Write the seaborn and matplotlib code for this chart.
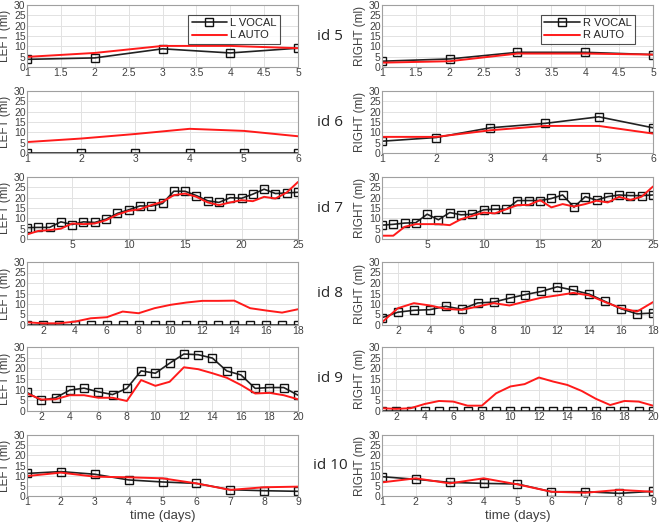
import seaborn as sns
import numpy as np
import matplotlib.pyplot as plt
import pandas as pd

# subject ids, one row of panels each
ids = [5, 6, 7, 8, 9, 10]

# id 5
l_vocal_5 = [3.7, 4.4, 8.8, 6.8, 9.1]
l_auto_5 = [4.9, 6.8, 10.2, 10.2, 9.1]
r_vocal_5 = [2.8, 3.9, 7.1, 7.1, 6.0]
r_auto_5 = [2.1, 2.8, 6.5, 6.5, 6.0]

# id 6
l_vocal_6 = [0, 0, 0, 0, 0, 0]
l_auto_6 = [5.3, 7.0, 9.2, 11.7, 10.7, 8.1]
r_vocal_6 = [5.7, 7.5, 12.2, 14.3, 17.5, 12.2]
r_auto_6 = [7.8, 7.8, 11.0, 13.1, 13.1, 9.4]

# id 7
l_vocal_7 = [5.5, 5.6, 5.6, 8.3, 7.0, 8.3, 8.0, 9.6, 12.4, 14.1, 16.0, 15.9, 17.2,
             23.1, 23.1, 21.0, 18.5, 17.7, 20.0, 19.7, 21.7, 24.1, 22.0, 22.3, 22.6]
l_auto_7 = [2.2, 3.9, 4.3, 5.0, 7.5, 7.2, 7.5, 9.1, 11.8, 13.6, 14.4, 16.4, 18.0,
            21.2, 22.0, 20.4, 17.7, 16.4, 17.7, 18.8, 18.3, 20.4, 19.6, 22.5, 27.6]
r_vocal_7 = [6.7, 7.1, 7.7, 7.9, 12.0, 9.3, 12.8, 11.7, 12.0, 14.1, 14.4, 14.4, 18.6,
             18.6, 18.6, 19.6, 21.3, 15.4, 20.5, 18.8, 20.5, 21.3, 21.0, 21.0, 21.3]
r_auto_7 = [1.6, 1.6, 5.9, 7.2, 7.2, 7.2, 6.7, 9.6, 11.2, 12.8, 12.4, 14.4, 16.4,
            16.5, 18.8, 15.3, 16.9, 15.7, 16.9, 18.5, 17.7, 20.4, 18.9, 20.5, 25.4]

# id 8
l_vocal_8 = [0] * 18
l_auto_8 = [1.3, 0.8, 0.8, 1.6, 3.2, 3.7, 6.4, 5.6, 8.0, 9.6, 10.7, 11.5, 11.5,
            11.6, 8.0, 6.9, 5.9, 7.5]
r_vocal_8 = [3.5, 6.1, 7.0, 7.3, 8.9, 7.5, 10.5, 10.9, 12.8, 14.5, 16.0, 18.2, 16.6,
             14.7, 11.2, 7.7, 5.3, 5.7]
r_auto_8 = [1.3, 8.0, 10.4, 9.3, 7.7, 7.2, 8.8, 10.4, 9.3, 11.2, 13.0, 14.1, 15.3,
            14.1, 10.9, 8.0, 6.4, 10.9]

# id 9
l_vocal_9 = [8.7, 5.0, 6.2, 9.8, 10.7, 9.0, 7.7, 10.6, 18.8, 17.7, 22.4, 26.7, 26.4,
             24.8, 18.8, 16.9, 10.6, 11.0, 11.0, 7.4]
l_auto_9 = [8.2, 5.4, 5.5, 7.4, 7.4, 6.2, 6.2, 4.7, 14.5, 11.8, 13.7, 20.5, 19.6,
            17.7, 15.6, 12.2, 8.2, 8.5, 7.4, 5.5]
r_vocal_9 = [0] * 20
r_auto_9 = [1.3, 1.0, 1.3, 3.3, 4.7, 4.4, 2.5, 2.5, 8.3, 11.5, 12.6, 15.7, 13.8,
            12.2, 9.4, 5.7, 2.8, 4.7, 4.4, 2.5]

# id 10
l_vocal_10 = [11.1, 12.0, 10.7, 7.9, 6.9, 6.2, 3.1, 2.6, 2.3]
l_auto_10 = [9.8, 11.5, 9.5, 9.2, 8.7, 6.2, 3.0, 4.3, 4.6]
r_vocal_10 = [9.5, 8.2, 6.7, 6.2, 5.9, 2.1, 2.1, 1.3, 2.3]
r_auto_10 = [6.7, 8.7, 6.2, 8.7, 5.7, 2.1, 1.6, 3.0, 2.1]

left_vocal = [l_vocal_5, l_vocal_6, l_vocal_7, l_vocal_8, l_vocal_9, l_vocal_10]
left_auto = [l_auto_5, l_auto_6, l_auto_7, l_auto_8, l_auto_9, l_auto_10]
right_vocal = [r_vocal_5, r_vocal_6, r_vocal_7, r_vocal_8, r_vocal_9, r_vocal_10]
right_auto = [r_auto_5, r_auto_6, r_auto_7, r_auto_8, r_auto_9, r_auto_10]

xticks = [np.arange(1, 5.01, 0.5), np.arange(1, 7), np.arange(5, 26, 5),
          np.arange(2, 19, 2), np.arange(2, 21, 2), np.arange(1, 10)]
xticklabels = [["1", "1.5", "2", "2.5", "3", "3.5", "4", "4.5", "5"]] + \
              [[str(int(v)) for v in t] for t in xticks[1:]]

sns.set_style("whitegrid")
plt.rcParams['font.family'] = ['Liberation Sans', 'DejaVu Sans']

fig = plt.figure(figsize=(6.6, 5.27), dpi=100)

# pixel rows (top, bottom) of each panel row
rows_px = [(5, 67), (91, 153), (177, 239), (262, 325), (347, 411), (435, 496)]
H = 527.0
W = 660.0

tick_col = '#404040'

for i, sid in enumerate(ids):
    top, bot = rows_px[i]
    for side in range(2):
        x0 = 27 if side == 0 else 382
        ax = fig.add_axes([x0 / W, 1 - bot / H, 271 / W, (bot - top) / H])
        vocal = left_vocal[i] if side == 0 else right_vocal[i]
        auto = left_auto[i] if side == 0 else right_auto[i]
        days = np.arange(1, len(vocal) + 1)
        pre = 'L' if side == 0 else 'R'
        df = pd.DataFrame({'day': days, 'vocal': vocal, 'auto': auto})
        sns.lineplot(data=df, x='day', y='vocal', ax=ax, color='#222222', lw=1.2,
                     marker='s', markersize=5.5, markerfacecolor='none',
                     markeredgecolor='#111111', markeredgewidth=1.0,
                     label=pre + ' VOCAL', legend=False)
        sns.lineplot(data=df, x='day', y='auto', ax=ax, color='#ff1a1a', lw=1.4,
                     label=pre + ' AUTO', legend=False)
        ax.set_xlim(1, len(vocal))
        ax.set_ylim(0, 30)
        ax.set_yticks(np.arange(0, 31, 5))
        ax.set_xticks(xticks[i])
        ax.set_xticklabels(xticklabels[i])
        ax.tick_params(axis='both', labelsize=7.5, colors=tick_col, length=2,
                       direction='in', pad=1)
        ax.grid(True, color='#e2e2e2', lw=0.7)
        for s in ax.spines.values():
            s.set_color('#a0a0a0')
            s.set_linewidth(0.8)
        ax.set_ylabel('LEFT (ml)' if side == 0 else 'RIGHT (ml)', fontsize=8.5,
                      color=tick_col, labelpad=2)
        if i == len(ids) - 1:
            ax.set_xlabel('time (days)', fontsize=9.5, color=tick_col, labelpad=2)
        else:
            ax.set_xlabel('')
        if i == 0:
            leg = ax.legend(loc='upper right', bbox_to_anchor=(0.955, 0.93),
                            fontsize=8, frameon=True, fancybox=False,
                            borderpad=0.3, handlelength=3.2, labelspacing=0.2,
                            handletextpad=0.3)
            leg.get_frame().set_edgecolor('#222222')
            leg.get_frame().set_linewidth(0.8)

    fig.text(330 / W, 1 - ((top + bot) / 2) / H, 'id %d' % sid, ha='center',
             va='center', fontsize=11, family=['Open Sans', 'DejaVu Sans'])

fig.savefig('out.png', dpi=100)
